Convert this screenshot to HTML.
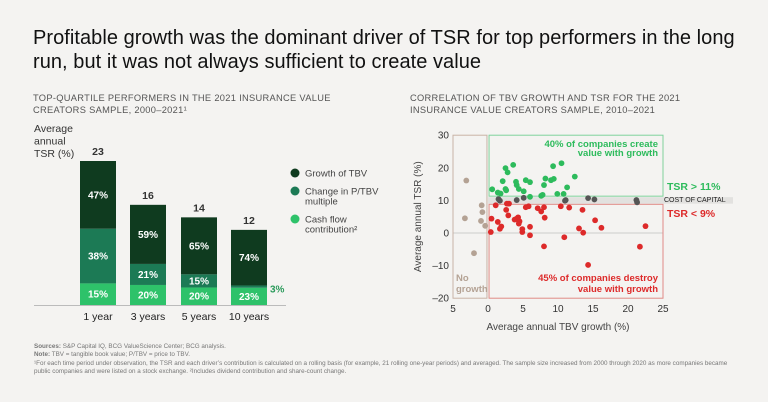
<!DOCTYPE html>
<html><head><meta charset="utf-8"><style>
body{margin:0;background:#f4f3f1;font-family:"Liberation Sans",sans-serif;}
#root{position:relative;width:768px;height:402px;overflow:hidden;background:#f4f3f1;}
.t{position:absolute;white-space:nowrap;}
</style></head><body>
<div id="root">
<div class="t" style="left:33px;top:26px;font-size:20px;line-height:24px;color:#111;letter-spacing:0.05px;">Profitable growth was the dominant driver of TSR for top performers in the long<br>run, but it was not always sufficient to create value</div>
<div class="t" style="left:33px;top:92px;font-size:9.3px;line-height:12px;color:#555;letter-spacing:.3px;">TOP-QUARTILE PERFORMERS IN THE 2021 INSURANCE VALUE<br>CREATORS SAMPLE, 2000–2021¹</div>
<div class="t" style="left:410px;top:92px;font-size:9.3px;line-height:12px;color:#555;letter-spacing:.3px;">CORRELATION OF TBV GROWTH AND TSR FOR THE 2021<br>INSURANCE VALUE CREATORS SAMPLE, 2010–2021</div>
<svg id="bars" width="768" height="402" style="position:absolute;left:0;top:0"></svg>
<svg id="scat" width="768" height="402" style="position:absolute;left:0;top:0"></svg>
<div class="t" style="left:34px;top:343px;font-size:6.3px;line-height:8.3px;color:#777;"><b>Sources:</b> S&amp;P Capital IQ, BCG ValueScience Center; BCG analysis.<br><b>Note:</b> TBV = tangible book value; P/TBV = price to TBV.<br>¹For each time period under observation, the TSR and each driver’s contribution is calculated on a rolling basis (for example, 21 rolling one-year periods) and averaged. The sample size increased from 2000 through 2020 as more companies became<br>public companies and were listed on a stock exchange. ²Includes dividend contribution and share-count change.</div>
</div>
<script>
const periods=["1 year","3 years","5 years","10 years"];
const totals=[23,16,14,12];
const growthPct=[47,59,65,74];
const multiplePct=[38,21,15,3];
const cashPct=[15,20,20,23];

const noGrowthX=[-3.1,-3.3,-0.9,-0.8,-1,-0.4,-2];
const noGrowthY=[16.1,4.5,8.5,6.4,3.7,2.2,-6.2];
const capX=[1.5,1.7,4.1,5.1,11.1,11,14.3,15.2,21.2,21.3];
const capY=[10.4,9.9,10.1,10.8,10.1,9.9,10.7,10.3,10.1,9.4];
const createX=[0.6,1.4,1.8,2.5,2.8,2.1,2.5,2.6,3.6,4,4.1,4.4,5.1,5.4,6,6,7.6,7.8,8,8.2,9,9.4,9.3,9.9,10.5,10.8,11.3,12.4];
const createY=[13.4,12.4,12.1,19.9,18.6,15.9,13.5,13.1,20.9,15.7,14.7,13.5,12.8,16.2,15.6,11.1,11.4,11.7,14.7,16.7,16.2,16.6,20.5,12,21.4,12,14,17.3];
const destroyX=[0.4,0.5,1.1,1.4,1.7,1.9,2.6,2.7,3,2.9,3.8,4.1,4.3,4.5,4.4,4.9,4.9,5.4,5.8,6,6,7.1,7.6,8,8.1,8,10.4,10.9,11.6,13.5,13,13.6,14.3,15.3,16.2,21.7,22.5];
const destroyY=[0.3,4.4,8.5,3.4,1.3,2,7.1,9,9,5.4,4.1,4.4,4.8,3.6,2.9,1.2,0.3,7.9,8.2,1.9,-0.7,7.6,6.6,7.9,4.7,-4.1,8.2,-1.3,7.8,7.1,1.4,0.1,-9.8,3.9,1.6,-4.2,2.1];
const xTicks=[-5,0,5,10,15,20,25];
const yTicks=[30,20,10,0,-10,-20];

const NS="http://www.w3.org/2000/svg";
function mk(svg,tag,attrs,text){const e=document.createElementNS(NS,tag);for(const k in attrs)e.setAttribute(k,attrs[k]);if(text!==undefined)e.textContent=text;svg.appendChild(e);return e;}

const B=document.getElementById('bars');
const base=305, unit=144/23, barX=[80,130,181,231], bw=36;
const by=v=>base-v*unit;
mk(B,'line',{x1:34,x2:286,y1:base+0.5,y2:base+0.5,stroke:'#bbb','stroke-width':1});
let t=mk(B,'text',{x:34,y:132,'font-size':10.5,fill:'#333'});
["Average","annual","TSR (%)"].forEach((s,i)=>{const ts=document.createElementNS(NS,'tspan');ts.setAttribute('x',34);ts.setAttribute('dy',i?12.5:0);ts.textContent=s;t.appendChild(ts);});

periods.forEach((p,i)=>{
  const tot=totals[i];
  const segs=[[cashPct[i],'#2ec26a'],[multiplePct[i],'#1c7a55'],[growthPct[i],'#0f3b1f']];
  let acc=0;
  segs.forEach((s,j)=>{
    const v0=acc, v1=acc+tot*s[0]/100; acc=v1;
    const r=mk(B,'rect',{x:barX[i],y:by(v1),width:bw,height:by(v0)-by(v1),fill:s[1]});
    
    if(s[0]>=10){const l=mk(B,'text',{x:barX[i]+bw/2,y:(by(v0)+by(v1))/2+3.5,'text-anchor':'middle','font-size':10,'font-weight':'bold',fill:'#fff'},s[0]+'%');
      }
    else{const l=mk(B,'text',{x:barX[i]+bw+3,y:(by(v0)+by(v1))/2+6,'font-size':10,'font-weight':'bold',fill:'#2a9a5a'},s[0]+'%');
      }
  });
  const tl=mk(B,'text',{x:barX[i]+bw/2,y:by(tot)-6,'text-anchor':'middle','font-size':10.5,'font-weight':'bold',fill:'#333'},tot);
  
  const cl=mk(B,'text',{x:barX[i]+bw/2,y:320,'text-anchor':'middle','font-size':10.5,fill:'#222'},p);
  
});
[['Growth of TBV','#0f3b1f',173,[]],['Change in P/TBV','#1c7a55',191,['multiple']],['Cash flow','#2ec26a',219,['contribution²']]].forEach(L=>{
  const c=mk(B,'circle',{cx:295,cy:L[2],r:4.5,fill:L[1]});
  const tx=mk(B,'text',{x:305,y:L[2]+3.5,'font-size':9.5,fill:'#444'},L[0]);
  L[3].forEach(s=>{const t2=mk(B,'text',{x:305,y:L[2]+13.5,'font-size':9.5,fill:'#444'},s);});
});

const S=document.getElementById('scat');
const sx=v=>488+v*7, sy=v=>233-v*3.26;
let e;
e=mk(S,'rect',{x:488,y:sy(11),width:733-488,height:sy(9)-sy(11),fill:'#e2e1df'});
e=mk(S,'line',{x1:sx(-5),x2:sx(25),y1:sy(0),y2:sy(0),stroke:'#ccc'});
e=mk(S,'rect',{x:sx(-5),y:sy(30),width:sx(-0.15)-sx(-5),height:sy(-20)-sy(30),fill:'none',stroke:'#c9b3a6','stroke-width':1});
e=mk(S,'rect',{x:sx(0.15),y:sy(30),width:sx(25)-sx(0.15),height:sy(11.3)-sy(30),fill:'none',stroke:'#7fd29c','stroke-width':1});
e=mk(S,'rect',{x:sx(0.15),y:sy(8.8),width:sx(25)-sx(0.15),height:sy(-20)-sy(8.8),fill:'none',stroke:'#e08a86','stroke-width':1});
xTicks.forEach(v=>{e=mk(S,'text',{x:sx(v),y:sy(-20)+14,'text-anchor':'middle','font-size':10,fill:'#333'},Math.abs(v));});
yTicks.forEach(v=>{e=mk(S,'text',{x:sx(-5)-4,y:sy(v)+3.5,'text-anchor':'end','font-size':10,fill:'#333'},v<0?'–'+(-v):v);});
e=mk(S,'text',{x:0,y:0,transform:`translate(421,${sy(5)}) rotate(-90)`,'text-anchor':'middle','font-size':10,fill:'#444'},'Average annual TSR (%)');
e=mk(S,'text',{x:558,y:330,'text-anchor':'middle','font-size':10,fill:'#444'},'Average annual TBV growth (%)');
function pts(X,Y,c,n){X.forEach((x,i)=>{const p=mk(S,'circle',{cx:sx(x),cy:sy(Y[i]),r:2.9,fill:c});});}
pts(noGrowthX,noGrowthY,'#b4a294','point-no-growth');
pts(createX,createY,'#2dbb5c','point-create-value');
pts(destroyX,destroyY,'#dd2a2a','point-destroy-value');
pts(capX,capY,'#555','point-cost-of-capital');
function lab(x,y,txt,c,fs,anchor,w,n){e=mk(S,'text',{x,y,'font-size':fs,'font-weight':w,fill:c,'text-anchor':anchor},txt);}
lab(658,147,'40% of companies create','#2dbb5c',9.5,'end','bold','create-annotation');
lab(658,156,'value with growth','#2dbb5c',9.5,'end','bold','create-annotation');
lab(658,281,'45% of companies destroy','#dd2a2a',9.5,'end','bold','destroy-annotation');
lab(658,292,'value with growth','#dd2a2a',9.5,'end','bold','destroy-annotation');
lab(456,281,'No','#b4a294',9.5,'start','bold','no-growth-label');
lab(456,292,'growth','#b4a294',9.5,'start','bold','no-growth-label');
lab(667,190,'TSR > 11%','#2dbb5c',10.5,'start','bold','tsr-above-label');
lab(664,202,'COST OF CAPITAL','#222',7,'start','normal','cost-of-capital-label');
lab(667,217,'TSR < 9%','#dd2a2a',10.5,'start','bold','tsr-below-label');
</script>
</body></html>
